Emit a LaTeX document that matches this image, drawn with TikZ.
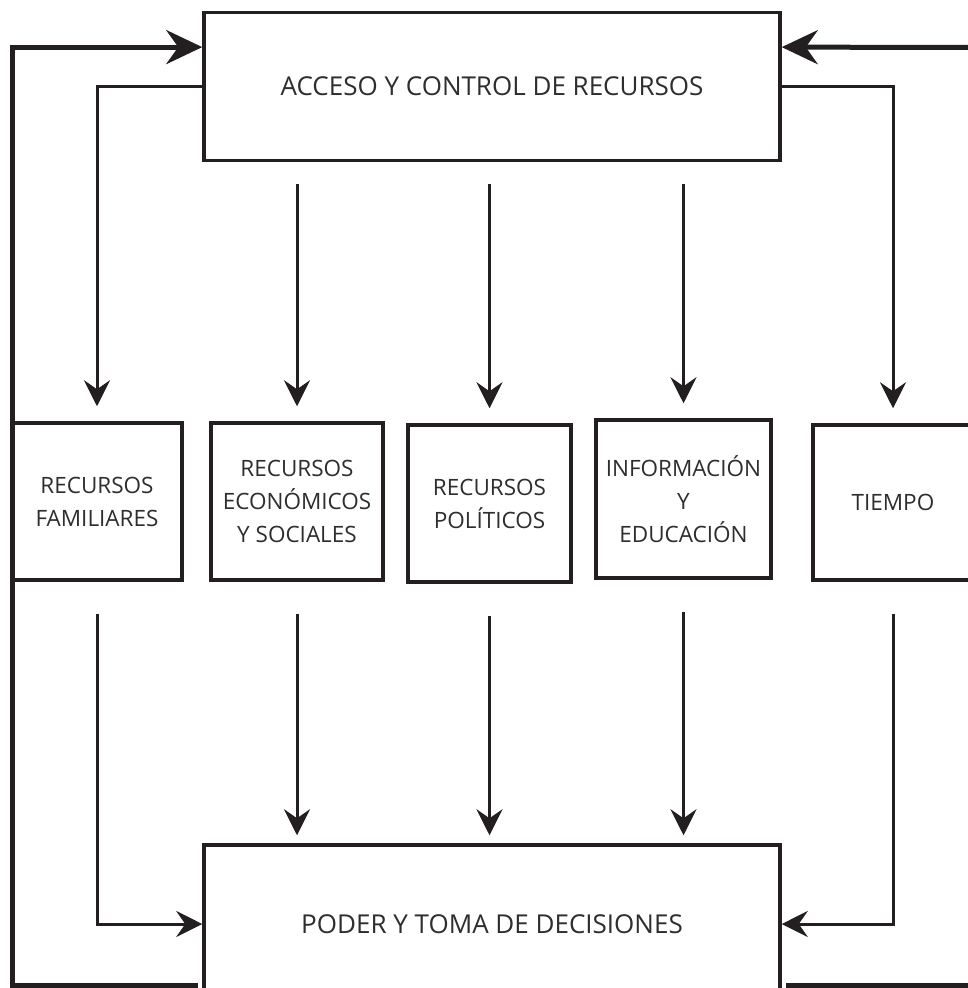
\documentclass[tikz,border=0pt]{standalone}
\usepackage{fontspec}
\setmainfont{Open Sans}
\usepackage{tikz}
\usetikzlibrary{arrows.meta,calc}
\definecolor{tinta}{HTML}{231F20}
\definecolor{textogris}{HTML}{2E2E2E}

\begin{document}
\begin{tikzpicture}[
  x=1pt, y=-1pt,
  font=\fontsize{22.5}{33}\selectfont,
  caja/.style={
    draw=tinta,
    line width=3.5pt,
    fill=white,
    align=center,
    text=textogris,
    inner sep=0pt
  },
  cajagrande/.style={
    caja,
    minimum width=576pt,
    font=\fontsize{26}{33}\selectfont
  },
  flecha/.style={
    -{Stealth[length=26pt,width=26pt,inset=9pt]},
    line width=3pt,
    draw=tinta
  },
  lazo/.style={
    line width=5pt,
    draw=tinta
  },
  flechalazo/.style={
    lazo,
    -{Stealth[length=36pt,width=34pt,inset=12pt]}
  }
]
  \useasboundingbox (0,0) rectangle (967,988);

  % --- Top box ---
  \node[cajagrande, minimum height=148pt] (acceso) at (492,86.5) {ACCESO Y CONTROL DE RECURSOS};

  % --- Middle row: resources ---
  \node[caja, minimum width=170pt, minimum height=157pt] (familiar) at (97,501.5) {RECURSOS\\FAMILIARES};
  \node[caja, minimum width=172pt, minimum height=157pt] (eco) at (297,501.5) {RECURSOS\\ECONÓMICOS\\Y SOCIALES};
  \node[caja, minimum width=163pt, minimum height=157pt] (poli) at (489.5,503.5) {RECURSOS\\POLÍTICOS};
  \node[caja, minimum width=175pt, minimum height=158pt] (info) at (683.5,499) {INFORMACIÓN\\Y\\EDUCACIÓN};
  \node[caja, minimum width=160pt, minimum height=155pt] (tiempo) at (893,502.5) {TIEMPO};

  % --- Bottom box ---
  \node[cajagrande, minimum height=158pt] (poder) at (492,924) {PODER Y TOMA DE DECISIONES};

  % Loop ends
  \coordinate (entradaizq) at ($(acceso.north west)!0.24!(acceso.south west)$);
  \coordinate (entradader) at ($(acceso.north east)!0.24!(acceso.south east)$);
  \coordinate (esqizq) at (12,985);
  \coordinate (fondoizq) at (198,985);
  \coordinate (fondoder) at (786,985);
  \coordinate (bordeder) at (975,985);
  \coordinate (bordedertop) at (975,47.5);

  % Arrows from the top box to the resources
  \draw[flecha, shorten >=15pt] (acceso.west) -| (familiar.north);
  \draw[flecha, shorten >=15pt] (acceso.east) -| (tiempo.north);
  \foreach \r in {eco,poli,info}
    \draw[flecha, shorten <=22pt, shorten >=15pt] (acceso.south -| \r.north) -- (\r.north);

  % Arrows from the resources to the bottom box
  \foreach \r in {eco,poli,info}
    \draw[flecha, shorten <=32pt, shorten >=8pt] (\r.south) -- (poder.north -| \r.south);
  \draw[flecha, shorten <=32pt] (familiar.south) |- (poder.west);
  \draw[flecha, shorten <=32pt] (tiempo.south) |- (poder.east);

  % Feedback loops back to the top box
  \draw[flechalazo] (fondoizq) -- (esqizq) |- (entradaizq);
  \draw[lazo] (fondoder) -- (bordeder);
  \draw[flechalazo] (bordedertop) -- (entradader);

\end{tikzpicture}
\end{document}
